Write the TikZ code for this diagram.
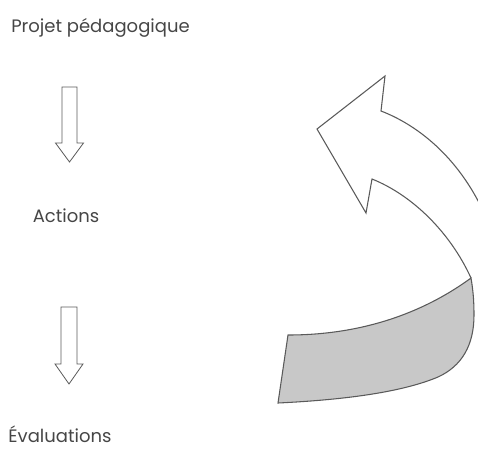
\documentclass[tikz,border=0pt]{standalone}
\usepackage{fontspec}
\setmainfont{Poppins}

\definecolor{inkgray}{RGB}{70,70,70}
\definecolor{linegray}{RGB}{90,90,90}
\definecolor{bandgray}{RGB}{200,200,200}

\tikzset{
  lbl/.style={inner sep=0pt, text=inkgray, font=\fontsize{13.5}{16}\selectfont},
  blockarrow/.style={draw=linegray, line width=0.6pt, line join=miter},
  bendline/.style={draw=linegray, line width=0.8pt, line join=miter}
}

\begin{document}
\begin{tikzpicture}[x=0.75pt,y=0.75pt,yscale=-1,xscale=1]
	\useasboundingbox (0,0) rectangle (478,455);

	% Text Node
	\node [lbl, anchor=base west] (projet) at (11,32) {Projet pédagogique};
	% Text Node
	\node [lbl, anchor=base] (actions) at (66,222) {Actions};
	% Text Node
	\node [lbl, anchor=base] (evals) at (60,442) {Évaluations};

	% Down arrows
	\coordinate (top1) at (69.5,87);
	\coordinate (top2) at (69,307);
	\draw [blockarrow] (top1) ++(-7.5,0) -- ++(15,0) -- ++(0,56) -- ++(6.5,0) -- ++(-14,19) -- ++(-14,-19) -- ++(6.5,0) -- cycle;
	\draw [blockarrow] (top2) ++(-8,0) -- ++(16,0) -- ++(0,57) -- ++(6,0) -- ++(-14,20) -- ++(-14,-20) -- ++(6,0) -- cycle;

	% Curved arrow
	\begin{scope}
	\clip (0,0) rectangle (478,455);
	\draw [bendline] (471,278) .. controls (450,232) and (412,195) .. (372,179) -- (366,213) -- (317,129) -- (385,76) -- (381,111) .. controls (415,124) and (458,155) .. (485,215);
	\draw [bendline, fill=bandgray] (471,278) .. controls (430,308) and (370,335) .. (288,335) -- (278,403) .. controls (340,400) and (400,393) .. (438,377) .. controls (462,366) and (474,345) .. (474,315) .. controls (474,300) and (473,290) .. (471,278) -- cycle;
	\end{scope}

\end{tikzpicture}
\end{document}
